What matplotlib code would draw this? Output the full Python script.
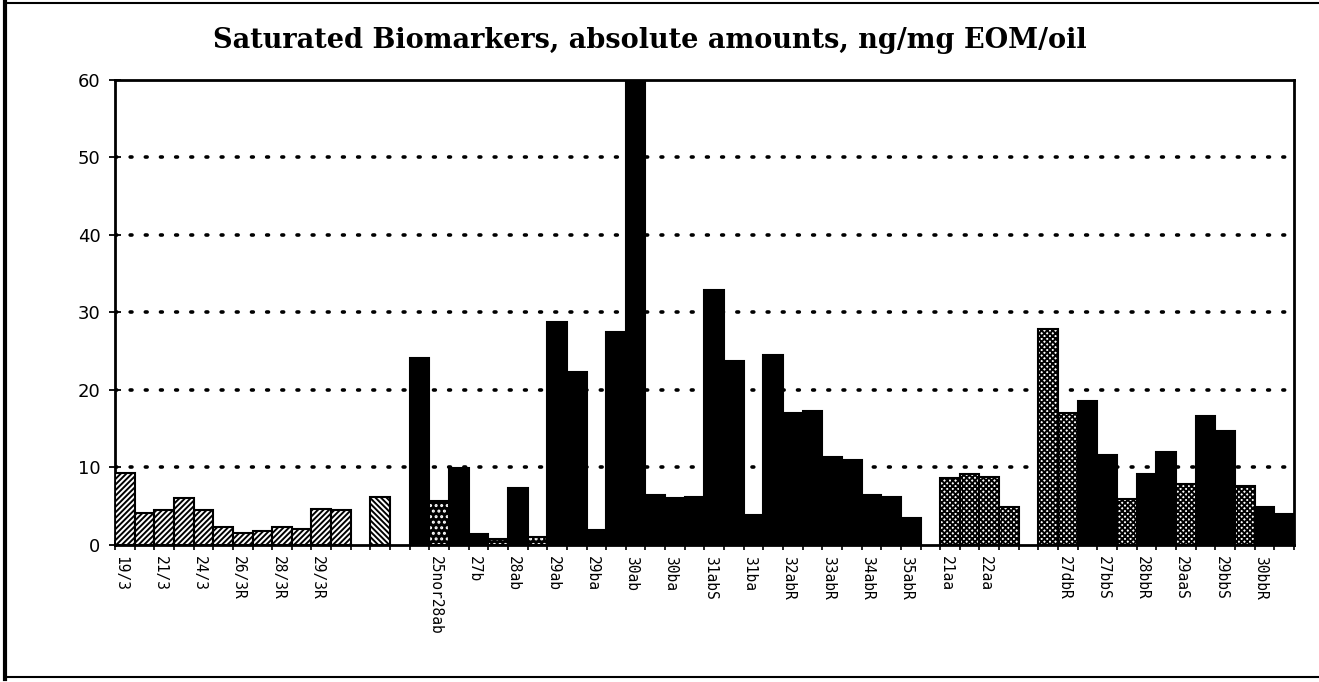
import matplotlib
matplotlib.use('Agg')
import matplotlib.pyplot as plt
import numpy as np

# bar heights, one per slot (0 = empty slot)
values = [9.3, 4.1, 4.5, 6.0, 4.5, 2.3, 1.6, 1.8, 2.3, 2.0, 4.6, 4.5,
          0, 6.2, 0,
          24.1, 5.7, 9.9, 1.4, 0.7, 7.4, 1.0, 28.7, 22.3, 1.9, 27.5, 60.0,
          6.5, 6.0, 6.2, 32.9, 23.7, 3.8, 24.5, 17.0, 17.3, 11.4, 11.0,
          6.4, 6.2, 3.5, 0,
          8.6, 9.2, 8.7, 4.9,
          0,
          27.8, 17.0, 18.6, 11.6, 5.9, 9.2, 12.0, 7.8, 16.6, 14.7, 7.6, 4.9, 4.0]

# fill style group of each slot
groups = (['hatch'] * 12 + ['none', 'back', 'none'] +
          ['black', 'dots', 'black', 'black', 'dots', 'black', 'dots'] +
          ['black'] * 19 + ['none'] +
          ['grey'] * 4 + ['none'] +
          ['grey', 'grey', 'black', 'black', 'grey', 'black', 'black', 'grey',
           'black', 'black', 'grey', 'black', 'black'])

# labels sit under every second slot
tick_labels = ['19/3', '21/3', '24/3', '26/3R', '28/3R', '29/3R', '', '',
               '25nor28ab', '27b', '28ab', '29ab', '29ba', '30ab', '30ba',
               '31abS', '31ba', '32abR', '33abR', '34abR', '35abR', '21aa',
               '22aa', '', '27dbR', '27bbS', '28bbR', '29aaS', '29bbS', '30bbR']

yticks = [0, 10, 20, 30, 40, 50, 60]

plt.rcParams['hatch.linewidth'] = 1.4

fig = plt.figure(figsize=(13.19, 6.82), dpi=100)
ax = fig.add_axes([0.0872, 0.201, 0.8937, 0.682])

x = np.arange(len(values))
vals = np.array(values)

for g in ['hatch', 'back', 'black', 'dots', 'grey']:
    m = np.array([gg == g for gg in groups])
    if g == 'hatch':
        ax.bar(x[m], vals[m], width=1, color='white', edgecolor='black',
               hatch='//////', linewidth=1.5, zorder=3)
    elif g == 'back':
        ax.bar(x[m], vals[m], width=1, color='white', edgecolor='black',
               hatch='\\\\\\\\\\\\', linewidth=1.5, zorder=3)
    elif g == 'black':
        ax.bar(x[m], vals[m], width=1, color='black', edgecolor='black',
               linewidth=1.5, zorder=3)
    elif g == 'dots':
        ax.bar(x[m], vals[m], width=1, color='black', edgecolor='white',
               hatch='...', linewidth=0, zorder=3)
        ax.bar(x[m], vals[m], width=1, color='none', edgecolor='black',
               linewidth=1.5, zorder=4)
    else:
        ax.bar(x[m], vals[m], width=1, color='white', edgecolor='black',
               hatch='xxxxxx', linewidth=1.5, zorder=3)

ax.set_xlim(-0.5, len(values) - 0.5)
ax.set_ylim(0, 60)

ax.set_yticks(yticks)
ax.set_yticklabels([str(t) for t in yticks], fontsize=13, family='DejaVu Sans')
ax.tick_params(axis='y', direction='inout', length=9, width=1.3, pad=6)

ax.set_xticks(np.arange(0, len(values), 2) - 0.2)
ax.set_xticklabels(tick_labels, rotation=-90, fontsize=10.5,
                   family='DejaVu Sans Mono', va='top', ha='center')
ax.tick_params(axis='x', which='major', length=0, pad=8)
ax.set_xticks(np.arange(len(values) + 1) - 0.5, minor=True)
ax.tick_params(axis='x', which='minor', direction='inout', length=7, width=1.2)

for s in ax.spines.values():
    s.set_linewidth(2)

for yv in yticks[1:-1]:
    ax.axhline(yv, color='black', linewidth=2.6, linestyle=(0, (0.5, 3.7)),
               dash_capstyle='round', zorder=1)

fig.text(0.493, 0.94, 'Saturated Biomarkers, absolute amounts, ng/mg EOM/oil',
         ha='center', va='center', fontsize=19.5, fontweight='bold',
         family='DejaVu Serif')

# page frame lines
fig.add_artist(plt.Line2D([0.004, 0.004], [0.005, 0.997], color='black', lw=3))
fig.add_artist(plt.Line2D([0.004, 0.999], [0.996, 0.996], color='black', lw=1.5))
fig.add_artist(plt.Line2D([0.004, 0.999], [0.008, 0.008], color='black', lw=1.5))

fig.savefig('out.png', dpi=100)
